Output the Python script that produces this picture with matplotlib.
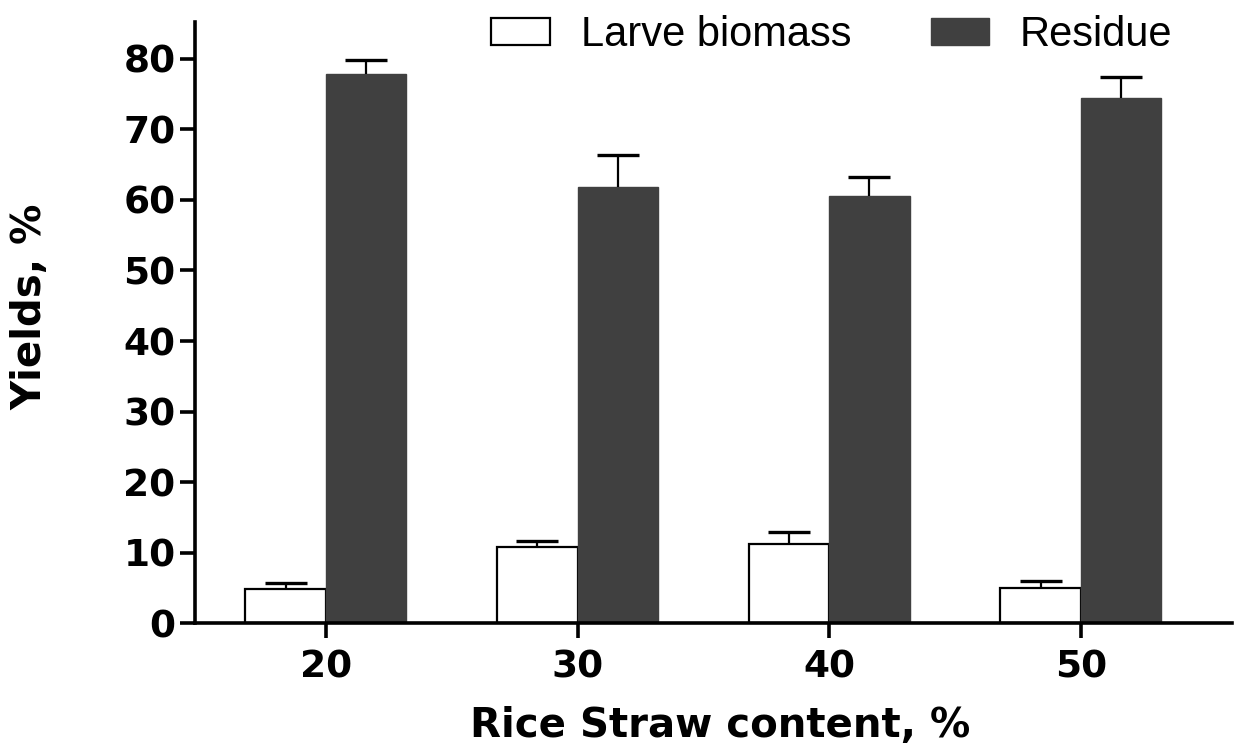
import matplotlib
matplotlib.use("Agg")
import matplotlib.pyplot as plt
import numpy as np
from matplotlib.patches import Patch

categories = ["20", "30", "40", "50"]
larve = [4.9, 10.8, 11.3, 5.0]
larve_err = [0.8, 0.8, 1.6, 1.0]
residue = [77.9, 61.8, 60.6, 74.4]
residue_err = [1.9, 4.5, 2.7, 3.0]
yticks = [0, 10, 20, 30, 40, 50, 60, 70, 80]

fig = plt.figure(figsize=(12.38, 7.51), dpi=100)
ax = fig.add_axes([0.1575, 0.170, 0.8375, 0.8007])

x = np.arange(len(categories))
w = 0.32
ekw = dict(elinewidth=1.6, capthick=2.4, ecolor="black")
b1 = ax.bar(x - w / 2, larve, w, color="white", edgecolor="black", linewidth=1.6,
            yerr=[np.zeros(4), larve_err], capsize=15, error_kw=ekw, label="Larve biomass")
b2 = ax.bar(x + w / 2, residue, w, color="#404040", edgecolor="#404040", linewidth=1,
            yerr=[np.zeros(4), residue_err], capsize=15, error_kw=ekw, label="Residue")

# hide the lower caps (only upper error shown)
for bc, vals in ((b1, larve), (b2, residue)):
    caplines = bc.errorbar.lines[1]
    for cl in caplines:
        yd = np.asarray(cl.get_ydata(), dtype=float)
        if np.allclose(yd, vals):
            cl.set_visible(False)

ax.set_xlim(-0.52, 3.6)
ax.set_ylim(0, 85.2)
ax.set_xticks(x)
ax.set_xticklabels(categories)
ax.set_yticks(yticks)
for s in ["top", "right"]:
    ax.spines[s].set_visible(False)
for s in ["left", "bottom"]:
    ax.spines[s].set_linewidth(2.6)
ax.tick_params(axis="both", width=2.6, length=11, labelsize=27, pad=3)
for lab in ax.get_xticklabels() + ax.get_yticklabels():
    lab.set_fontweight("bold")
ax.tick_params(axis="x", pad=8)

ax.set_xlabel("Rice Straw content, %", fontsize=29, fontweight="bold")
ax.xaxis.set_label_coords((720 - 195) / 1037, -(706 - 623.5) / 601.5)
ax.set_ylabel("Yields, %", fontsize=29, fontweight="bold")
ax.yaxis.set_label_coords((50 - 195) / 1037, (623.5 - 307) / 601.5)

handles = [Patch(facecolor="white", edgecolor="black", linewidth=1.6),
           Patch(facecolor="#404040", edgecolor="#404040")]
fig.legend(handles, ["Larve biomass", "Residue"], loc="center",
           bbox_to_anchor=(0.672, 0.953), ncol=2, frameon=False,
           prop={"family": "Liberation Sans", "size": 30},
           handlelength=1.4, handleheight=0.6, handletextpad=0.75, columnspacing=1.9)

fig.savefig("out.png", dpi=100)
